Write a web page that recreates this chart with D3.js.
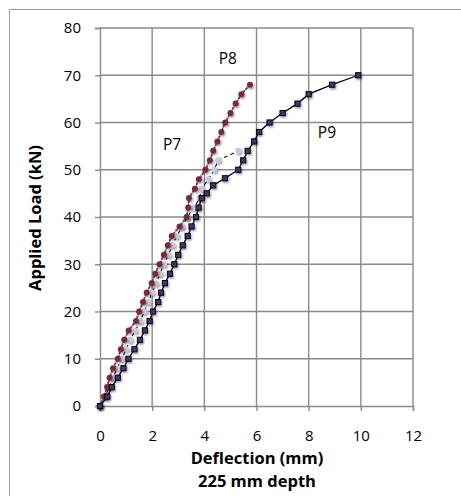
<!DOCTYPE html>
<html><head><meta charset="utf-8">
<script src="https://cdn.jsdelivr.net/npm/d3@7"></script>
<style>body{margin:0;background:#fff}svg{display:block}text{font-family:"Open Sans","Noto Sans",sans-serif;fill:#000}</style>
</head><body><svg id="c" width="461" height="496"></svg>
<script>
const xTicks = [0,2,4,6,8,10,12];
const yTicks = [0,10,20,30,40,50,60,70,80];
const xTitle = "Deflection (mm)";
const xSub = "225 mm depth";
const yTitle = "Applied Load (kN)";

const p7x = [0,0.2,0.35,0.5,0.65,0.85,1.0,1.15,1.35,1.55,1.7,1.85,2.0,2.15,2.3,2.45,2.62,2.78,2.95,3.15,3.35,3.6,3.82,3.9,4.15,4.38,4.53,5.31];
const p7y = [0,2,4,6,8,10,12,14,16,18,20,22,24,26,28,30,32,34,36,38,40,42,44,46,48,50,52,54];
const p8x = [0,0.15,0.27,0.37,0.5,0.68,0.8,0.93,1.1,1.38,1.5,1.65,1.79,1.98,2.12,2.28,2.45,2.6,2.75,3.05,3.32,3.38,3.41,3.64,3.79,4.04,4.21,4.34,4.5,4.65,4.8,5.0,5.2,5.42,5.75];
const p8y = [0,2,4,6,8,10,12,14,16,18,20,22,24,26,28,30,32,34,36,38,40,42,44,46,48,50,52,54,56,58,60,62,64,66,68];
const p9x = [0,0.28,0.45,0.68,0.9,1.09,1.32,1.53,1.72,1.9,2.03,2.23,2.34,2.49,2.68,2.85,3.0,3.17,3.36,3.51,3.68,3.78,3.9,4.09,4.34,4.79,5.3,5.49,5.66,5.91,6.1,6.5,7.0,7.57,8.0,8.9,9.9];
const p9y = [0,2,4,6,8,10,12,14,16,18,20,22,24,26,28,30,32,34,36,38,40,42,44,45,46.7,48.2,50,52,54,56,58,60,62,64,66,68,70];
const labels = [{t:"P8",x:4.9,y:72.3},{t:"P7",x:2.76,y:54.2},{t:"P9",x:8.7,y:56.7}];

const svg = d3.select("#c");
const defs = svg.append("defs");
const f = defs.append("filter").attr("id","sh").attr("x","-50%").attr("y","-50%").attr("width","200%").attr("height","200%");
f.append("feDropShadow").attr("dx",1).attr("dy",1.5).attr("stdDeviation",1).attr("flood-color","#000").attr("flood-opacity",0.45);

svg.append("rect").attr("x",9.5).attr("y",9.5).attr("width",470).attr("height",500).attr("fill","none").attr("stroke","#a0a0a0");

const x = d3.scaleLinear().domain([0,12]).range([100,413]);
const y = d3.scaleLinear().domain([0,80]).range([406,28]);

// grid
const g = svg.append("g");
g.selectAll(".vg").data(xTicks.slice(1)).join("line").attr("x1",d=>x(d)).attr("x2",d=>x(d)).attr("y1",y(80)).attr("y2",y(0)).attr("stroke","#8a8a8a").attr("stroke-width",1.4);
g.selectAll(".hg").data(yTicks.slice(1)).join("line").attr("x1",x(0)).attr("x2",x(12)).attr("y1",d=>y(d)).attr("y2",d=>y(d)).attr("stroke","#8a8a8a").attr("stroke-width",1.4);

const ax = svg.append("g").attr("transform",`translate(0,${y(0)})`)
  .call(d3.axisBottom(x).tickValues(xTicks).tickSize(5).tickPadding(19));
const ay = svg.append("g").attr("transform",`translate(${x(0)},0)`)
  .call(d3.axisLeft(y).tickValues(yTicks).tickSize(5).tickPadding(14));
[ax,ay].forEach(a=>{
  a.selectAll("path,line").attr("stroke","#8a8a8a").attr("stroke-width",1.4);
  a.selectAll("text").style("font-size","15px").style("font-family","'Open Sans',sans-serif");
});

svg.append("text").attr("x",257).attr("y",464).attr("text-anchor","middle").style("font-size","16.5px").style("font-weight","bold").text(xTitle);
svg.append("text").attr("x",257).attr("y",487).attr("text-anchor","middle").style("font-size","16.5px").style("font-weight","bold").text(xSub);
svg.append("text").attr("transform","translate(41,218) rotate(-90)").attr("text-anchor","middle").style("font-size","16.5px").style("font-weight","bold").text(yTitle);

const line = d3.line().x(d=>x(d[0])).y(d=>y(d[1]));
const s7 = d3.zip(p7x,p7y), s8 = d3.zip(p8x,p8y), s9 = d3.zip(p9x,p9y);

svg.append("path").datum(s7).attr("d",line).attr("fill","none").attr("stroke","#111").attr("stroke-width",1.1).attr("stroke-dasharray","4,3");
svg.append("g").attr("filter","url(#sh)").selectAll("circle").data(s7).join("circle")
  .attr("cx",d=>x(d[0])).attr("cy",d=>y(d[1])).attr("r",3).attr("fill","#cdc4df");

svg.append("path").datum(s8).attr("d",line).attr("fill","none").attr("stroke","#5b4b9a").attr("stroke-width",2).attr("stroke-dasharray","1.5,2.5").attr("stroke-linecap","round");
svg.append("g").attr("filter","url(#sh)").selectAll("circle").data(s8).join("circle")
  .attr("cx",d=>x(d[0])).attr("cy",d=>y(d[1])).attr("r",3).attr("fill","#7a2a35");

svg.append("path").datum(s9).attr("d",line).attr("fill","none").attr("stroke","#000").attr("stroke-width",1.3);
svg.append("g").attr("filter","url(#sh)").selectAll("rect").data(s9).join("rect")
  .attr("x",d=>x(d[0])-2.6).attr("y",d=>y(d[1])-2.6).attr("width",5.2).attr("height",5.2)
  .attr("fill","#45306e").attr("stroke","#000").attr("stroke-width",0.9);

svg.selectAll(".lab").data(labels).join("text").attr("x",d=>x(d.x)).attr("y",d=>y(d.y)).attr("text-anchor","middle")
  .style("font-size","15.5px").text(d=>d.t);
</script></body></html>
